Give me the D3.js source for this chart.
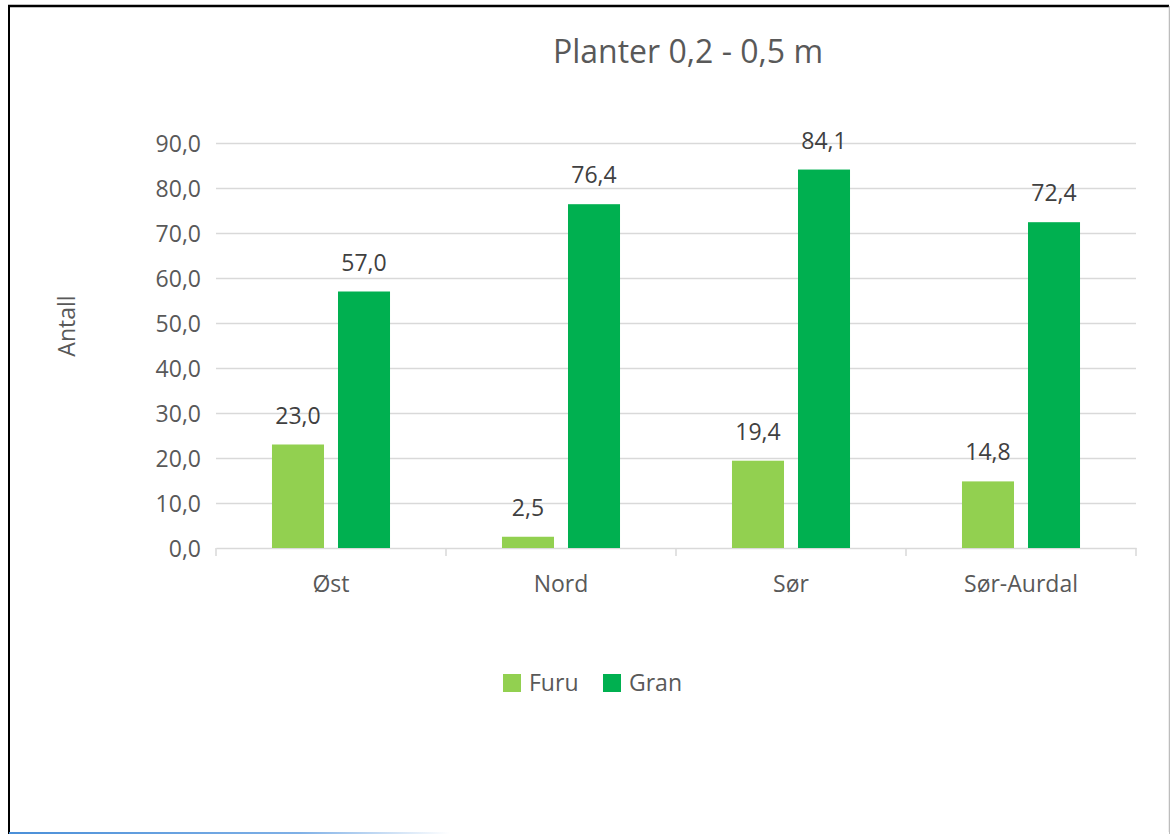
<!DOCTYPE html>
<html>
<head>
<meta charset="utf-8">
<script src="https://cdn.jsdelivr.net/npm/d3@7/dist/d3.min.js"></script>
<style>
  body { margin: 0; background: #fff; }
  svg text { font-family: "Open Sans", "DejaVu Sans", sans-serif; }
</style>
</head>
<body>
<svg id="chart" width="1170" height="834"></svg>
<script>
const categories = ["Øst", "Nord", "Sør", "Sør-Aurdal"];
const seriesNames = ["Furu", "Gran"];
const furu = [23.0, 2.5, 19.4, 14.8];
const gran = [57.0, 76.4, 84.1, 72.4];
const yTicks = [0, 10, 20, 30, 40, 50, 60, 70, 80, 90];
const colors = ["#92D050", "#00B050"];

const width = 1170, height = 834;
const margin = { top: 143, right: 34, bottom: 286, left: 216 };
const fmt = v => v.toFixed(1).replace(".", ",");

const svg = d3.select("#chart");

// frame
svg.append("line").attr("x1", 9).attr("x2", 9).attr("y1", 5).attr("y2", 834)
  .attr("stroke", "#000").attr("stroke-width", 2);
svg.append("line").attr("x1", 8).attr("x2", 1169).attr("y1", 6).attr("y2", 6)
  .attr("stroke", "#000").attr("stroke-width", 2.5);
svg.append("line").attr("x1", 1169.5).attr("x2", 1169.5).attr("y1", 6).attr("y2", 834)
  .attr("stroke", "#bdbdbd").attr("stroke-width", 1.5);
const grad = svg.append("defs").append("linearGradient").attr("id", "bl");
grad.append("stop").attr("offset", "0").attr("stop-color", "#4a8fd8");
grad.append("stop").attr("offset", "0.25").attr("stop-color", "#7fb0e6");
grad.append("stop").attr("offset", "0.38").attr("stop-color", "#ffffff");
svg.append("rect").attr("x", 9).attr("y", 832).attr("width", 1160).attr("height", 2)
  .attr("fill", "url(#bl)");

const x0 = d3.scaleBand().domain(categories)
  .range([margin.left, width - margin.right]);
const x1 = d3.scaleBand().domain(seriesNames)
  .range([0, x0.bandwidth()]).paddingInner(0.212).paddingOuter(0.848);
const y = d3.scaleLinear().domain([0, 90])
  .range([height - margin.bottom, margin.top]);

// gridlines
svg.append("g").selectAll("line").data(yTicks.slice(1)).join("line")
  .attr("x1", margin.left).attr("x2", width - margin.right)
  .attr("y1", d => Math.round(y(d)) + 0.5).attr("y2", d => Math.round(y(d)) + 0.5)
  .attr("stroke", "#d9d9d9").attr("stroke-width", 1.3);

// y axis labels
const yAxis = d3.axisLeft(y).tickValues(yTicks).tickFormat(fmt).tickSize(0).tickPadding(15);
const gy = svg.append("g").attr("transform", `translate(${margin.left},0)`).call(yAxis);
gy.select(".domain").remove();
gy.selectAll("text").attr("fill", "#595959").style("font-size", "23px")
  .attr("dy", "0.35em");

// x axis
const xAxis = d3.axisBottom(x0).tickSize(0).tickPadding(28);
const gx = svg.append("g").attr("transform", `translate(0,${y(0)})`).call(xAxis);
gx.select(".domain").attr("stroke", "#d9d9d9").attr("stroke-width", 1.5);
gx.selectAll("text").attr("fill", "#595959").style("font-size", "23px");
// category separators
const seps = categories.map(c => x0(c)).concat([x0.range()[1]]);
gx.selectAll(".sep").data(seps).join("line").attr("class", "sep")
  .attr("x1", d => d).attr("x2", d => d).attr("y1", 0).attr("y2", 8)
  .attr("stroke", "#d9d9d9").attr("stroke-width", 1.5);

// bars
const rows = categories.map((c, i) => ({ cat: c, vals: [furu[i], gran[i]] }));
const groups = svg.append("g").selectAll("g").data(rows).join("g")
  .attr("transform", d => `translate(${x0(d.cat)},0)`);
groups.selectAll("rect").data(d => d.vals.map((v, j) => ({ s: seriesNames[j], v, j })))
  .join("rect")
  .attr("x", d => x1(d.s)).attr("width", x1.bandwidth())
  .attr("y", d => y(d.v)).attr("height", d => y(0) - y(d.v))
  .attr("fill", d => colors[d.j]);
groups.selectAll("text").data(d => d.vals.map((v, j) => ({ s: seriesNames[j], v, j })))
  .join("text")
  .attr("x", d => x1(d.s) + x1.bandwidth() / 2).attr("y", d => y(d.v) - 21)
  .attr("text-anchor", "middle").attr("fill", "#404040").style("font-size", "23px")
  .text(d => fmt(d.v));

// title
svg.append("text").attr("x", 688).attr("y", 63).attr("text-anchor", "middle")
  .attr("fill", "#595959").style("font-size", "32px").text("Planter 0,2 - 0,5 m");

// y title
svg.append("text").attr("transform", "translate(75,326) rotate(-90)")
  .attr("text-anchor", "middle").attr("fill", "#595959").style("font-size", "23px")
  .text("Antall");

// legend
const legend = svg.append("g").attr("transform", "translate(503,674)");
const items = legend.selectAll("g").data(seriesNames).join("g")
  .attr("transform", (d, i) => `translate(${i * 100},0)`);
items.append("rect").attr("width", 18).attr("height", 18)
  .attr("fill", (d, i) => colors[i]);
items.append("text").attr("x", 26).attr("y", 17).attr("fill", "#595959")
  .style("font-size", "23px").text(d => d);
</script>
</body>
</html>
